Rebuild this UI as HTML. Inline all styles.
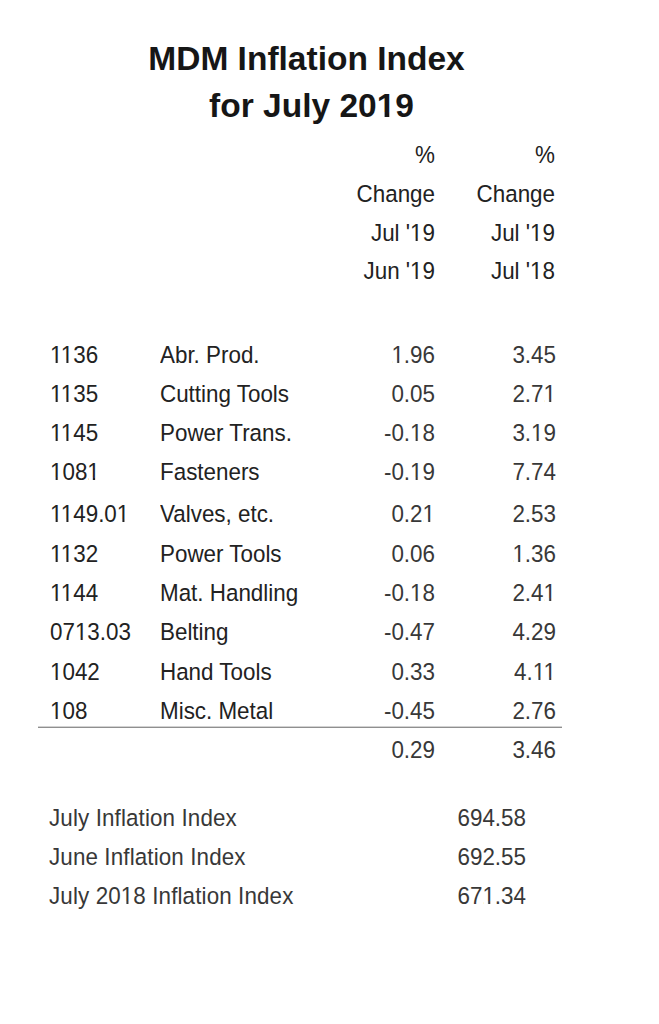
<!DOCTYPE html>
<html>
<head>
<meta charset="utf-8">
<style>
html,body{margin:0;padding:0;background:#fff;}
body{width:659px;height:1024px;position:relative;overflow:hidden;font-family:"Liberation Sans",sans-serif;color:#222;}
.t{position:absolute;white-space:nowrap;font-size:22.4px;line-height:22px;transform:scaleY(1.05);transform-origin:0 18px;}
.r{text-align:right;}
.title{position:absolute;left:0;width:659px;text-align:center;font-weight:bold;font-size:33.5px;line-height:34px;white-space:nowrap;color:#161616;}
.c1{left:50px;}
.c2{left:160px;}
.v1{right:224px;}
.v2{right:104px;}
.lab{left:49px;letter-spacing:0.12px;}
.bv{right:133px;}
.n,.bv,.lab{color:#383838;}
.v2.n{right:103px;}
.w{position:absolute;background:#fff;}
.rule{position:absolute;left:38px;width:524px;top:727px;height:1px;background:#8f8f8f;box-shadow:0 -1px 0 #d2d2d2;}
</style>
</head>
<body>
<div class="title" style="top:42px;left:-23px;">MDM Inflation Index</div>
<div class="title" style="top:89px;left:-18px;">for July 2019</div>

<div class="t v1" style="top:145px">%</div>
<div class="t v2" style="top:145px">%</div>
<div class="t v1" style="top:184px">Change</div>
<div class="t v2" style="top:184px">Change</div>
<div class="t v1" style="top:223px">Jul '19</div>
<div class="t v2" style="top:223px">Jul '19</div>
<div class="t v1" style="top:261px">Jun '19</div>
<div class="t v2" style="top:261px">Jul '18</div>

<div class="t c1" style="top:345px">1136</div><div class="t c2" style="top:345px">Abr. Prod.</div><div class="t v1 n" style="top:345px">1.96</div><div class="t v2 n" style="top:345px">3.45</div>
<div class="t c1" style="top:384px">1135</div><div class="t c2" style="top:384px">Cutting Tools</div><div class="t v1 n" style="top:384px">0.05</div><div class="t v2 n" style="top:384px">2.71</div>
<div class="t c1" style="top:423px">1145</div><div class="t c2" style="top:423px">Power Trans.</div><div class="t v1 n" style="top:423px">-0.18</div><div class="t v2 n" style="top:423px">3.19</div>
<div class="t c1" style="top:462px">1081</div><div class="t c2" style="top:462px">Fasteners</div><div class="t v1 n" style="top:462px">-0.19</div><div class="t v2 n" style="top:462px">7.74</div>
<div class="t c1" style="top:504px">1149.01</div><div class="t c2" style="top:504px">Valves, etc.</div><div class="t v1 n" style="top:504px">0.21</div><div class="t v2 n" style="top:504px">2.53</div>
<div class="t c1" style="top:544px">1132</div><div class="t c2" style="top:544px">Power Tools</div><div class="t v1 n" style="top:544px">0.06</div><div class="t v2 n" style="top:544px">1.36</div>
<div class="t c1" style="top:583px">1144</div><div class="t c2" style="top:583px">Mat. Handling</div><div class="t v1 n" style="top:583px">-0.18</div><div class="t v2 n" style="top:583px">2.41</div>
<div class="t c1" style="top:622px">0713.03</div><div class="t c2" style="top:622px">Belting</div><div class="t v1 n" style="top:622px">-0.47</div><div class="t v2 n" style="top:622px">4.29</div>
<div class="t c1" style="top:662px">1042</div><div class="t c2" style="top:662px">Hand Tools</div><div class="t v1 n" style="top:662px">0.33</div><div class="t v2 n" style="top:662px">4.11</div>
<div class="t c1" style="top:701px">108</div><div class="t c2" style="top:701px">Misc. Metal</div><div class="t v1 n" style="top:701px">-0.45</div><div class="t v2 n" style="top:701px">2.76</div>
<div class="rule"></div>
<div class="t v1 n" style="top:740px">0.29</div><div class="t v2 n" style="top:740px">3.46</div>

<div class="t lab" style="top:808px">July Inflation Index</div><div class="t bv n" style="top:808px">694.58</div>
<div class="t lab" style="top:847px">June Inflation Index</div><div class="t bv n" style="top:847px">692.55</div>
<div class="t lab" style="top:886px">July 2018 Inflation Index</div><div class="t bv n" style="top:886px">671.34</div>
<div class="w" style="left:378px;top:112px;width:6px;height:5px"></div><div class="w" style="left:384px;top:112px;width:1px;height:5px;background:#a1a1a1"></div><div class="w" style="left:389px;top:112px;width:1px;height:5px;background:#bababa"></div><div class="w" style="left:390px;top:112px;width:6px;height:5px"></div><div class="w" style="left:411px;top:238px;width:4px;height:3px"></div><div class="w" style="left:415px;top:238px;width:1px;height:3px;background:#adadad"></div><div class="w" style="left:417px;top:238px;width:1px;height:3px;background:#656565"></div><div class="w" style="left:418px;top:238px;width:1px;height:3px;background:#f9f9f9"></div><div class="w" style="left:419px;top:238px;width:4px;height:3px"></div><div class="w" style="left:531px;top:238px;width:4px;height:3px"></div><div class="w" style="left:535px;top:238px;width:1px;height:3px;background:#adadad"></div><div class="w" style="left:537px;top:238px;width:1px;height:3px;background:#656565"></div><div class="w" style="left:538px;top:238px;width:1px;height:3px;background:#f9f9f9"></div><div class="w" style="left:539px;top:238px;width:4px;height:3px"></div><div class="w" style="left:411px;top:276px;width:4px;height:3px"></div><div class="w" style="left:415px;top:276px;width:1px;height:3px;background:#adadad"></div><div class="w" style="left:417px;top:276px;width:1px;height:3px;background:#656565"></div><div class="w" style="left:418px;top:276px;width:1px;height:3px;background:#f9f9f9"></div><div class="w" style="left:419px;top:276px;width:4px;height:3px"></div><div class="w" style="left:531px;top:276px;width:4px;height:3px"></div><div class="w" style="left:535px;top:276px;width:1px;height:3px;background:#adadad"></div><div class="w" style="left:537px;top:276px;width:1px;height:3px;background:#656565"></div><div class="w" style="left:538px;top:276px;width:1px;height:3px;background:#f9f9f9"></div><div class="w" style="left:539px;top:276px;width:4px;height:3px"></div><div class="w" style="left:51px;top:360px;width:4px;height:3px"></div><div class="w" style="left:55px;top:360px;width:1px;height:3px;background:#adadad"></div><div class="w" style="left:57px;top:360px;width:1px;height:3px;background:#656565"></div><div class="w" style="left:58px;top:360px;width:1px;height:3px;background:#f9f9f9"></div><div class="w" style="left:59px;top:360px;width:4px;height:3px"></div><div class="w" style="left:62px;top:360px;width:4px;height:3px"></div><div class="w" style="left:66px;top:360px;width:1px;height:3px;background:#7c7c7c"></div><div class="w" style="left:68px;top:360px;width:1px;height:3px;background:#9c9c9c"></div><div class="w" style="left:69px;top:360px;width:5px;height:3px"></div><div class="w" style="left:393px;top:360px;width:3px;height:3px"></div><div class="w" style="left:396px;top:360px;width:1px;height:3px;background:#f2f2f2"></div><div class="w" style="left:397px;top:360px;width:1px;height:3px;background:#5e5e5e"></div><div class="w" style="left:399px;top:360px;width:1px;height:3px;background:#cccccc"></div><div class="w" style="left:400px;top:360px;width:4px;height:3px"></div><div class="w" style="left:51px;top:399px;width:4px;height:3px"></div><div class="w" style="left:55px;top:399px;width:1px;height:3px;background:#adadad"></div><div class="w" style="left:57px;top:399px;width:1px;height:3px;background:#656565"></div><div class="w" style="left:58px;top:399px;width:1px;height:3px;background:#f9f9f9"></div><div class="w" style="left:59px;top:399px;width:4px;height:3px"></div><div class="w" style="left:62px;top:399px;width:4px;height:3px"></div><div class="w" style="left:66px;top:399px;width:1px;height:3px;background:#7c7c7c"></div><div class="w" style="left:68px;top:399px;width:1px;height:3px;background:#9c9c9c"></div><div class="w" style="left:69px;top:399px;width:5px;height:3px"></div><div class="w" style="left:545px;top:399px;width:3px;height:3px"></div><div class="w" style="left:548px;top:399px;width:1px;height:3px;background:#f2f2f2"></div><div class="w" style="left:549px;top:399px;width:1px;height:3px;background:#5e5e5e"></div><div class="w" style="left:551px;top:399px;width:1px;height:3px;background:#cccccc"></div><div class="w" style="left:552px;top:399px;width:4px;height:3px"></div><div class="w" style="left:51px;top:438px;width:4px;height:3px"></div><div class="w" style="left:55px;top:438px;width:1px;height:3px;background:#adadad"></div><div class="w" style="left:57px;top:438px;width:1px;height:3px;background:#656565"></div><div class="w" style="left:58px;top:438px;width:1px;height:3px;background:#f9f9f9"></div><div class="w" style="left:59px;top:438px;width:4px;height:3px"></div><div class="w" style="left:62px;top:438px;width:4px;height:3px"></div><div class="w" style="left:66px;top:438px;width:1px;height:3px;background:#7c7c7c"></div><div class="w" style="left:68px;top:438px;width:1px;height:3px;background:#9c9c9c"></div><div class="w" style="left:69px;top:438px;width:5px;height:3px"></div><div class="w" style="left:411px;top:438px;width:4px;height:3px"></div><div class="w" style="left:415px;top:438px;width:1px;height:3px;background:#b5b5b5"></div><div class="w" style="left:417px;top:438px;width:1px;height:3px;background:#757575"></div><div class="w" style="left:418px;top:438px;width:1px;height:3px;background:#f9f9f9"></div><div class="w" style="left:419px;top:438px;width:4px;height:3px"></div><div class="w" style="left:532px;top:438px;width:4px;height:3px"></div><div class="w" style="left:536px;top:438px;width:1px;height:3px;background:#b5b5b5"></div><div class="w" style="left:538px;top:438px;width:1px;height:3px;background:#757575"></div><div class="w" style="left:539px;top:438px;width:1px;height:3px;background:#f9f9f9"></div><div class="w" style="left:540px;top:438px;width:4px;height:3px"></div><div class="w" style="left:51px;top:477px;width:4px;height:3px"></div><div class="w" style="left:55px;top:477px;width:1px;height:3px;background:#adadad"></div><div class="w" style="left:57px;top:477px;width:1px;height:3px;background:#656565"></div><div class="w" style="left:58px;top:477px;width:1px;height:3px;background:#f9f9f9"></div><div class="w" style="left:59px;top:477px;width:4px;height:3px"></div><div class="w" style="left:89px;top:477px;width:3px;height:3px"></div><div class="w" style="left:92px;top:477px;width:1px;height:3px;background:#d8d8d8"></div><div class="w" style="left:95px;top:477px;width:1px;height:3px;background:#e6e6e6"></div><div class="w" style="left:96px;top:477px;width:4px;height:3px"></div><div class="w" style="left:411px;top:477px;width:4px;height:3px"></div><div class="w" style="left:415px;top:477px;width:1px;height:3px;background:#b5b5b5"></div><div class="w" style="left:417px;top:477px;width:1px;height:3px;background:#757575"></div><div class="w" style="left:418px;top:477px;width:1px;height:3px;background:#f9f9f9"></div><div class="w" style="left:419px;top:477px;width:4px;height:3px"></div><div class="w" style="left:51px;top:519px;width:4px;height:3px"></div><div class="w" style="left:55px;top:519px;width:1px;height:3px;background:#adadad"></div><div class="w" style="left:57px;top:519px;width:1px;height:3px;background:#656565"></div><div class="w" style="left:58px;top:519px;width:1px;height:3px;background:#f9f9f9"></div><div class="w" style="left:59px;top:519px;width:4px;height:3px"></div><div class="w" style="left:62px;top:519px;width:4px;height:3px"></div><div class="w" style="left:66px;top:519px;width:1px;height:3px;background:#7c7c7c"></div><div class="w" style="left:68px;top:519px;width:1px;height:3px;background:#9c9c9c"></div><div class="w" style="left:69px;top:519px;width:5px;height:3px"></div><div class="w" style="left:118px;top:519px;width:4px;height:3px"></div><div class="w" style="left:122px;top:519px;width:1px;height:3px;background:#7c7c7c"></div><div class="w" style="left:124px;top:519px;width:1px;height:3px;background:#9c9c9c"></div><div class="w" style="left:125px;top:519px;width:5px;height:3px"></div><div class="w" style="left:424px;top:519px;width:3px;height:3px"></div><div class="w" style="left:427px;top:519px;width:1px;height:3px;background:#f2f2f2"></div><div class="w" style="left:428px;top:519px;width:1px;height:3px;background:#5e5e5e"></div><div class="w" style="left:430px;top:519px;width:1px;height:3px;background:#cccccc"></div><div class="w" style="left:431px;top:519px;width:4px;height:3px"></div><div class="w" style="left:51px;top:559px;width:4px;height:3px"></div><div class="w" style="left:55px;top:559px;width:1px;height:3px;background:#adadad"></div><div class="w" style="left:57px;top:559px;width:1px;height:3px;background:#656565"></div><div class="w" style="left:58px;top:559px;width:1px;height:3px;background:#f9f9f9"></div><div class="w" style="left:59px;top:559px;width:4px;height:3px"></div><div class="w" style="left:62px;top:559px;width:4px;height:3px"></div><div class="w" style="left:66px;top:559px;width:1px;height:3px;background:#7c7c7c"></div><div class="w" style="left:68px;top:559px;width:1px;height:3px;background:#9c9c9c"></div><div class="w" style="left:69px;top:559px;width:5px;height:3px"></div><div class="w" style="left:514px;top:559px;width:3px;height:3px"></div><div class="w" style="left:517px;top:559px;width:1px;height:3px;background:#f2f2f2"></div><div class="w" style="left:518px;top:559px;width:1px;height:3px;background:#5e5e5e"></div><div class="w" style="left:520px;top:559px;width:1px;height:3px;background:#cccccc"></div><div class="w" style="left:521px;top:559px;width:4px;height:3px"></div><div class="w" style="left:51px;top:598px;width:4px;height:3px"></div><div class="w" style="left:55px;top:598px;width:1px;height:3px;background:#adadad"></div><div class="w" style="left:57px;top:598px;width:1px;height:3px;background:#656565"></div><div class="w" style="left:58px;top:598px;width:1px;height:3px;background:#f9f9f9"></div><div class="w" style="left:59px;top:598px;width:4px;height:3px"></div><div class="w" style="left:62px;top:598px;width:4px;height:3px"></div><div class="w" style="left:66px;top:598px;width:1px;height:3px;background:#7c7c7c"></div><div class="w" style="left:68px;top:598px;width:1px;height:3px;background:#9c9c9c"></div><div class="w" style="left:69px;top:598px;width:5px;height:3px"></div><div class="w" style="left:411px;top:598px;width:4px;height:3px"></div><div class="w" style="left:415px;top:598px;width:1px;height:3px;background:#b5b5b5"></div><div class="w" style="left:417px;top:598px;width:1px;height:3px;background:#757575"></div><div class="w" style="left:418px;top:598px;width:1px;height:3px;background:#f9f9f9"></div><div class="w" style="left:419px;top:598px;width:4px;height:3px"></div><div class="w" style="left:545px;top:598px;width:3px;height:3px"></div><div class="w" style="left:548px;top:598px;width:1px;height:3px;background:#f2f2f2"></div><div class="w" style="left:549px;top:598px;width:1px;height:3px;background:#5e5e5e"></div><div class="w" style="left:551px;top:598px;width:1px;height:3px;background:#cccccc"></div><div class="w" style="left:552px;top:598px;width:4px;height:3px"></div><div class="w" style="left:76px;top:637px;width:4px;height:3px"></div><div class="w" style="left:80px;top:637px;width:1px;height:3px;background:#adadad"></div><div class="w" style="left:82px;top:637px;width:1px;height:3px;background:#656565"></div><div class="w" style="left:83px;top:637px;width:1px;height:3px;background:#f9f9f9"></div><div class="w" style="left:84px;top:637px;width:4px;height:3px"></div><div class="w" style="left:51px;top:677px;width:4px;height:3px"></div><div class="w" style="left:55px;top:677px;width:1px;height:3px;background:#adadad"></div><div class="w" style="left:57px;top:677px;width:1px;height:3px;background:#656565"></div><div class="w" style="left:58px;top:677px;width:1px;height:3px;background:#f9f9f9"></div><div class="w" style="left:59px;top:677px;width:4px;height:3px"></div><div class="w" style="left:534px;top:677px;width:4px;height:3px"></div><div class="w" style="left:538px;top:677px;width:1px;height:3px;background:#898989"></div><div class="w" style="left:540px;top:677px;width:1px;height:3px;background:#a5a5a5"></div><div class="w" style="left:541px;top:677px;width:5px;height:3px"></div><div class="w" style="left:545px;top:677px;width:3px;height:3px"></div><div class="w" style="left:548px;top:677px;width:1px;height:3px;background:#f2f2f2"></div><div class="w" style="left:549px;top:677px;width:1px;height:3px;background:#5e5e5e"></div><div class="w" style="left:551px;top:677px;width:1px;height:3px;background:#cccccc"></div><div class="w" style="left:552px;top:677px;width:4px;height:3px"></div><div class="w" style="left:51px;top:716px;width:4px;height:3px"></div><div class="w" style="left:55px;top:716px;width:1px;height:3px;background:#adadad"></div><div class="w" style="left:57px;top:716px;width:1px;height:3px;background:#656565"></div><div class="w" style="left:58px;top:716px;width:1px;height:3px;background:#f9f9f9"></div><div class="w" style="left:59px;top:716px;width:4px;height:3px"></div><div class="w" style="left:122px;top:901px;width:4px;height:3px"></div><div class="w" style="left:126px;top:901px;width:1px;height:3px;background:#898989"></div><div class="w" style="left:128px;top:901px;width:1px;height:3px;background:#a5a5a5"></div><div class="w" style="left:129px;top:901px;width:5px;height:3px"></div><div class="w" style="left:484px;top:901px;width:3px;height:3px"></div><div class="w" style="left:487px;top:901px;width:1px;height:3px;background:#f2f2f2"></div><div class="w" style="left:488px;top:901px;width:1px;height:3px;background:#5e5e5e"></div><div class="w" style="left:490px;top:901px;width:1px;height:3px;background:#cccccc"></div><div class="w" style="left:491px;top:901px;width:4px;height:3px"></div>
</body>
</html>
